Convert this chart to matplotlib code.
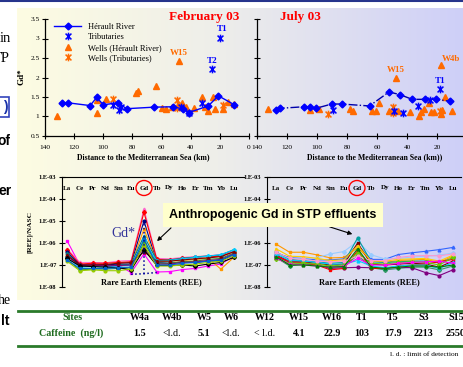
import numpy as np
import matplotlib
matplotlib.use("Agg")
import matplotlib.pyplot as plt
import matplotlib.transforms as mtransforms
from matplotlib.patches import Ellipse, Rectangle
from matplotlib.lines import Line2D
from matplotlib.path import Path
from matplotlib.ticker import NullLocator

plt.rcParams['font.family'] = ['Liberation Serif', 'DejaVu Serif']
SANS = ['Liberation Sans', 'DejaVu Sans']

# ---------- Gd* vs distance, February 03 ----------
feb_river_km = [128, 124, 109, 104.5, 100, 90, 84, 65, 52, 45, 41.5, 28, 21, 10]
feb_river_gd = [1.35, 1.35, 1.28, 1.49, 1.30, 1.35, 1.20, 1.24, 1.25, 1.19, 1.10, 1.27, 1.53, 1.30]
feb_trib_km = [93.5, 89, 88, 47, 41.5, 32.5, 25.5, 20]
feb_trib_gd = [1.30, 1.17, 1.25, 1.25, 1.08, 1.34, 2.21, 3.02]
feb_wells_km = [132, 104.5, 104.5, 98, 77.5, 76, 64, 48, 60, 57, 53, 49, 46, 43, 38,
                32.5, 30, 28, 25, 23, 18, 14.6, 10]
feb_wells_gd = [1.0, 1.42, 1.1, 1.45, 1.6, 1.66, 1.78, 2.42, 1.22, 1.2, 1.25, 1.3, 1.35, 1.25, 1.22,
                1.5, 1.25, 1.15, 1.5, 1.18, 1.2, 1.36, 1.32]
feb_welltrib_km = [93, 49.6, 49.6, 18]
feb_welltrib_gd = [1.45, 1.42, 1.22, 1.3]

# ---------- Gd* vs distance, July 03 ----------
jul_river_km = [127.3, 124.7, 108.7, 104.7, 100.7, 90.2, 83.5, 65, 52, 44.7, 36.5, 28, 20.7, 11.3]
jul_river_gd = [1.17, 1.21, 1.25, 1.24, 1.21, 1.32, 1.32, 1.27, 1.63, 1.56, 1.44, 1.44, 1.44, 1.39]
jul_trib_km = [89.5, 49, 42.4, 32.5, 24.7, 18]
jul_trib_gd = [1.17, 1.15, 1.10, 1.27, 1.42, 1.70]
jul_wells_km = [132.5, 104.7, 98.5, 78, 76, 63.5, 61, 58.7, 52, 47.5, 46, 38, 31.8, 31,
                28.4, 25.1, 24, 22, 17.5, 17, 14.7, 10.2, 17.5]
jul_wells_gd = [1.18, 1.17, 1.18, 1.18, 1.15, 1.14, 1.14, 1.34, 1.13, 1.98, 1.15, 1.11, 1.01, 1.12,
                1.19, 1.34, 1.12, 1.12, 1.07, 1.16, 1.5, 1.14, 2.32]
jul_welltrib_km = [93, 49.5, 49.5, 18]
jul_welltrib_gd = [1.06, 1.24, 1.1, 1.15]

gd_ticks = [0.5, 1, 1.5, 2, 2.5, 3, 3.5]
gd_ticklabels = ['0.5', '1', '1.5', '2', '2.5', '3', '3.5']
km_ticks = [140, 120, 100, 80, 60, 40, 20, 0]

# ---------- REE patterns (x 1e-7, NASC normalised) ----------
elements = ['La', 'Ce', 'Pr', 'Nd', 'Sm', 'Eu', 'Gd', 'Tb', 'Dy', 'Ho', 'Er', 'Tm', 'Yb', 'Lu']
feb_ree = [
    [12.8, 1.0, 1.0, 0.95, 1.0, 0.45, 3.2, 0.48, 0.5, 0.62, 0.7, 0.9, 1.1, 2.5],
    [5.5, 1.3, 1.3, 1.25, 1.5, 1.6, 350, 2.0, 1.9, 2.2, 2.4, 2.6, 3.0, 4.5],
    [5.0, 1.1, 1.2, 1.2, 1.3, 1.4, 250, 1.8, 1.7, 2.0, 2.2, 2.4, 2.5, 4.0],
    [4.0, 1.0, 1.0, 1.0, 1.1, 1.1, 100, 1.3, 1.2, 1.4, 1.3, 1.5, 1.6, 3.0],
    [3.0, 0.9, 0.9, 0.85, 0.9, 1.0, 43, 1.4, 1.5, 1.6, 1.8, 2.0, 0.65, 2.2],
    [3.5, 0.85, 0.9, 0.9, 1.0, 1.1, 21, 1.6, 1.7, 2.0, 2.3, 2.6, 2.8, 5.0],
    [2.2, 0.8, 0.85, 0.8, 0.9, 0.95, 13, 1.5, 1.6, 1.9, 2.2, 2.5, 3.0, 4.8],
    [1.8, 0.6, 0.65, 0.65, 0.7, 0.75, 10, 1.2, 1.2, 1.4, 1.5, 1.8, 2.0, 3.5],
    [2.5, 0.95, 1.0, 0.9, 0.95, 1.0, 6.3, 1.1, 1.1, 1.3, 1.4, 1.6, 1.8, 3.2],
    [2.8, 1.0, 1.0, 1.05, 1.2, 1.3, 4.0, 1.5, 1.5, 1.7, 1.9, 2.1, 2.4, 4.0],
    [2.0, 0.9, 0.85, 0.8, 0.75, 0.6, 5.0, 0.95, 0.95, 1.0, 0.9, 1.1, 1.3, 2.2],
    [1.5, 0.55, 0.6, 0.55, 0.55, 0.65, 8.0, 0.9, 0.9, 1.0, 1.1, 1.3, 1.5, 2.6],
    [1.7, 0.7, 0.7, 0.7, 0.75, 0.8, 15, 1.0, 1.0, 1.2, 1.3, 1.5, 1.7, 3.0],
]
feb_colors = ['#ff00ff', '#ff66cc', '#ff0000', '#000080', '#ff9900', '#008080', '#00ccff',
              '#339933', '#800080', '#800000', '#000000', '#99cc00', '#0066cc']
gd_base = [0.38, 0.40, 0.46]   # Eu, Gd, Tb baseline (x 1e-7)
gd_top = 80                    # top of the dotted Gd* bar (x 1e-7)

jul_ree = [
    [9.0, 3.8, 3.8, 2.9, 2.1, 2.2, 6.0, 1.6, 1.3, 1.6, 1.7, 1.8, 1.3, 2.5],
    [3.5, 2.2, 2.0, 1.7, 1.7, 1.9, 8.0, 1.8, 1.8, 3.0, 3.6, 4.2, 5.0, 6.3],
    [3.0, 2.0, 2.1, 2.1, 3.2, 4.1, 12, 2.9, 1.9, 2.0, 2.3, 2.5, 2.8, 3.5],
    [4.0, 1.8, 1.6, 1.4, 1.2, 1.3, 17, 1.4, 1.3, 1.4, 1.5, 1.5, 1.3, 2.0],
    [2.8, 1.5, 1.4, 1.2, 1.0, 1.1, 10, 1.1, 1.0, 1.1, 1.2, 1.1, 0.8, 1.5],
    [5.5, 2.5, 2.4, 2.0, 1.6, 1.7, 7.6, 1.5, 1.5, 1.8, 1.9, 2.0, 1.5, 2.8],
    [2.2, 0.9, 1.1, 1.0, 0.8, 0.85, 2.8, 0.75, 0.6, 0.7, 0.8, 0.8, 0.6, 0.9],
    [2.5, 1.3, 1.2, 1.0, 0.7, 0.75, 0.78, 0.75, 0.7, 0.8, 0.75, 0.45, 0.33, 0.6],
    [2.6, 1.4, 1.3, 1.0, 0.6, 0.7, 4.5, 0.7, 0.7, 0.9, 1.0, 1.1, 1.4, 1.8],
    [3.2, 1.6, 1.5, 1.3, 1.1, 1.1, 1.6, 0.9, 0.75, 0.9, 1.0, 1.0, 0.7, 1.3],
    [1.9, 1.2, 1.2, 1.1, 0.9, 1.0, 3.5, 1.2, 1.1, 1.3, 1.4, 1.3, 1.0, 2.2],
    [3.8, 2.0, 1.8, 1.5, 1.4, 1.5, 2.5, 1.6, 1.6, 2.2, 2.6, 2.7, 2.6, 3.2],
    [2.0, 1.1, 1.0, 0.9, 0.8, 0.9, 2.0, 1.0, 1.0, 1.2, 1.3, 1.4, 1.5, 1.2],
    [2.4, 1.0, 1.0, 0.9, 0.8, 0.85, 5.5, 0.8, 0.7, 0.8, 0.9, 0.9, 0.8, 1.0],
]
jul_colors = ['#ff9900', '#3366ff', '#99ccff', '#00a0a0', '#800000', '#ffcc00', '#339966',
              '#800080', '#ff0000', '#00ccff', '#66cc00', '#ff99cc', '#ff00ff', '#008000']
ree_ticks = [1e-8, 1e-7, 1e-6, 1e-5, 1e-4, 1e-3]
ree_ticklabels = ['1.E-08', '1.E-07', '1.E-06', '1.E-05', '1.E-04', '1.E-03']

# ---------- caffeine table ----------
sites = ['W4a', 'W4b', 'W5', 'W6', 'W12', 'W15', 'W16', 'T1', 'T5', 'S3', 'S15']
caffeine = ['1.5', '<l.d.', '5.1', '<l.d.', '< l.d.', '4.1', '22.9', '103', '17.9', '2213', '2550']

W, H = 464, 367
fig = plt.figure(figsize=(W / 100, H / 100), dpi=100)


def fx(x):
    return x / W


def fy(y):
    return 1 - y / H


def box(x0, y0, x1, y1):
    return [x0 / W, 1 - y1 / H, (x1 - x0) / W, (y1 - y0) / H]


# background gradient
bg = fig.add_axes(box(17, 8, 464, 300), zorder=-5)
stops = np.array([[253, 252, 226], [238, 238, 234], [206, 207, 248]]) / 255
t = np.linspace(0, 1, 300)
grad = np.stack([np.interp(t, [0, 0.45, 1], stops[:, k]) for k in range(3)], axis=-1)
bg.imshow(grad[None, :, :], aspect='auto', extent=(0, 1, 0, 1))
bg.axis('off')

fig.add_artist(Line2D([0, 1], [fy(1), fy(1)], transform=fig.transFigure, color='#26348c', lw=1.5))

# left slide text (cropped)
fig.text(fx(11), fy(39), 'in', ha='right', va='center', fontsize=10.5)
fig.text(fx(10), fy(58), 'TP', ha='right', va='center', fontsize=10.5)
fig.add_artist(Rectangle((fx(-6), fy(117)), 15 / W, 20 / H, transform=fig.transFigure,
                         fill=False, ec='#3344bb', lw=1.2))
fig.text(fx(8), fy(107), ')', ha='right', va='center', fontsize=10, color='#1a33aa',
         family=SANS, weight='bold')
fig.text(fx(10), fy(141), 'of', ha='right', va='center', fontsize=10, family=SANS, weight='bold')
fig.text(fx(12), fy(191), 'er', ha='right', va='center', fontsize=10, family=SANS, weight='bold')
fig.text(fx(11), fy(301), 'he', ha='right', va='center', fontsize=10)
fig.text(fx(9), fy(321), 'lt', ha='right', va='center', fontsize=10, family=SANS, weight='bold')

BLUE = '#0000ff'
ORANGE = '#ff6a00'
star = Path([(-1, -1), (1, 1), (-1, 1), (1, -1), (0, -1.3), (0, 1.3)],
            [Path.MOVETO, Path.LINETO] * 3)


def gd_panel(ax, rk, rg, rls, tk, tg, wk, wg, wtk, wtg, show_y):
    ax.set_facecolor('none')
    ax.plot(rk, rg, ls=rls, color=BLUE if rls == '-' else '#0000aa', lw=1, marker='D', ms=3.5,
            mfc=BLUE, mec=BLUE, label='Hérault River', zorder=3)
    ax.plot(tk, tg, ls='none', marker=star, ms=5.5, mew=1.1, color=BLUE, label='Tributaries', zorder=4)
    ax.plot(wk, wg, ls='none', marker='^', ms=5, color=ORANGE, label='Wells (Hérault River)', zorder=2)
    ax.plot(wtk, wtg, ls='none', marker=star, ms=5.5, mew=1.1, color=ORANGE,
            label='Wells (Tributaries)', zorder=2)
    ax.set_xlim(140, 0)
    ax.set_ylim(0.5, 3.5)
    ax.set_xticks(km_ticks if show_y else km_ticks[:-1])
    ax.set_yticks(gd_ticks)
    ax.set_yticklabels(gd_ticklabels if show_y else [])
    for s in ['top', 'right']:
        ax.spines[s].set_visible(False)
    for s in ['left', 'bottom']:
        ax.spines[s].set_linewidth(0.9)
    ax.tick_params(direction='inout', length=4, width=0.8, labelsize=5.3, pad=2)
    ax.tick_params(axis='x', pad=4.5)


def tag(ax, text, x, y, color, dx=0, dy=8):
    ax.annotate(text, (x, y), xytext=(dx, dy), textcoords='offset pixels', ha='center', va='center',
                color=color, fontsize=6.5, weight='bold')


ax1 = fig.add_axes(box(45, 19, 249, 136))
gd_panel(ax1, feb_river_km, feb_river_gd, '-', feb_trib_km, feb_trib_gd,
         feb_wells_km, feb_wells_gd, feb_welltrib_km, feb_welltrib_gd, True)
leg = ax1.legend(loc='upper left', bbox_to_anchor=(0.025, 1.0), borderaxespad=0, fontsize=6,
                 handlelength=3.3, borderpad=0.45, labelspacing=0.3, handletextpad=0.8,
                 fancybox=False, framealpha=0)
leg.get_frame().set_edgecolor('#222222')
leg.get_frame().set_linewidth(0.9)
tag(ax1, 'W15', feb_wells_km[7], feb_wells_gd[7], ORANGE)
tag(ax1, 'T2', feb_trib_km[6], feb_trib_gd[6], BLUE)
tag(ax1, 'T1', feb_trib_km[7], feb_trib_gd[7], BLUE, dx=2, dy=9)

ax2 = fig.add_axes(box(257, 19, 467, 136))
gd_panel(ax2, jul_river_km, jul_river_gd, '-.', jul_trib_km, jul_trib_gd,
         jul_wells_km, jul_wells_gd, jul_welltrib_km, jul_welltrib_gd, False)
tag(ax2, 'W15', jul_wells_km[9], jul_wells_gd[9], ORANGE)
tag(ax2, 'W4b', jul_wells_km[22], jul_wells_gd[22], ORANGE, dx=10, dy=6)
tag(ax2, 'T1', jul_trib_km[5], jul_trib_gd[5], BLUE)

fig.text(fx(204), fy(17), 'February 03', ha='center', va='center', color='#ff0000',
         fontsize=9.5, weight='bold')
fig.text(fx(300), fy(17), 'July 03', ha='center', va='center', color='#ff0000',
         fontsize=9.5, weight='bold')
fig.text(fx(22), fy(77), 'Gd*', rotation=90, ha='center', va='center', fontsize=6.5, weight='bold')
fig.text(fx(143), fy(157), 'Distance to the Mediterranean Sea (km)', ha='center', va='center',
         fontsize=5.6, weight='bold')
fig.text(fx(375), fy(157), 'Distance to the Mediterranean Sea (km))', ha='center', va='center',
         fontsize=5.6, weight='bold')


def ree_panel(ax, series, colors, x0, x1):
    ax.set_facecolor('none')
    xs = np.arange(len(elements))
    marks = ['s', '^', 'D', 'o', 's', '^', 'D', 'o', 's', '^', 'D', 'o', 's', '^']
    for vals, c, m in zip(series, colors, marks):
        ax.plot(xs, np.array(vals) * 1e-7, color=c, lw=0.8, marker=m, ms=2, mec=c)
    ax.set_yscale('log')
    ax.set_ylim(1e-8, 1e-3)
    ax.set_xlim(x0, x1)
    ax.set_xticks([])
    ax.set_yticks(ree_ticks)
    ax.set_yticklabels(ree_ticklabels)
    ax.yaxis.set_minor_locator(NullLocator())
    for s in ['right', 'bottom']:
        ax.spines[s].set_visible(False)
    ax.tick_params(direction='inout', length=4, width=0.8, labelsize=4.6, pad=2)
    for lab in ax.get_yticklabels():
        lab.set_fontweight('bold')
    trans = mtransforms.blended_transform_factory(ax.transData, ax.transAxes)
    for i, el in enumerate(elements):
        ax.text(i, 0.9, el, transform=trans, ha='center', va='center', fontsize=5, weight='bold')


ax3 = fig.add_axes(box(62, 177, 244, 287))
ree_panel(ax3, feb_ree, feb_colors, -0.39, 13.8)
ax3.plot([5, 6, 7], np.array(gd_base) * 1e-7, ls=':', color='#000099', lw=1.1)
ax3.plot([6, 6], [gd_base[1] * 1e-7, gd_top * 1e-7], ls=':', color='#000099', lw=1.1)
ax3.text(0.49, 0.045, 'Rare Earth Elements (REE)', transform=ax3.transAxes, ha='center',
         va='center', fontsize=6, weight='bold')

ax4 = fig.add_axes(box(267, 177, 461, 287))
ree_panel(ax4, jul_ree, jul_colors, -0.66, 13.6)
ax4.text(0.53, 0.045, 'Rare Earth Elements (REE)', transform=ax4.transAxes, ha='center',
         va='center', fontsize=6, weight='bold')

fig.text(fx(30), fy(232), '[REE]/NASC', rotation=90, ha='center', va='center', fontsize=5.3,
         weight='bold')

for cx in (144, 357):
    fig.add_artist(Ellipse((fx(cx), fy(188)), 16 / W, 15 / H, transform=fig.transFigure,
                           fill=False, ec='#ff0000', lw=1))

ax3.annotate('', xy=(fx(155), fy(243)), xycoords='figure fraction', xytext=(fx(173), fy(226)),
             textcoords='figure fraction', annotation_clip=False,
             arrowprops=dict(arrowstyle='-|>', color='k', lw=0.8, mutation_scale=6))
ax4.annotate('', xy=(fx(355), fy(235)), xycoords='figure fraction', xytext=(fx(327), fy(226)),
             textcoords='figure fraction', annotation_clip=False,
             arrowprops=dict(arrowstyle='-|>', color='k', lw=0.8, mutation_scale=6))
fig.text(fx(273), fy(215), 'Anthropogenic Gd in STP effluents', ha='center', va='center',
         family=SANS, weight='bold', fontsize=9, zorder=10,
         bbox=dict(boxstyle='square,pad=0.5', fc='#ffffcc', ec='none'))
fig.text(fx(123), fy(233), 'Gd*', ha='center', va='center', fontsize=10, color='#333399')

# table
GREEN = '#2a7a2a'
for yy, lw in ((311, 2), (346, 2)):
    fig.add_artist(Line2D([fx(18), 1], [fy(yy), fy(yy)], transform=fig.transFigure,
                          color=GREEN, lw=lw))
col_x = [140, 172, 204, 231, 265, 299, 332, 362, 393, 424, 456]
fig.text(fx(73), fy(318), 'Sites', ha='center', va='center', fontsize=7.2, weight='bold', color='#1e6b1e')
fig.text(fx(71), fy(333), 'Caffeine  (ng/l)', ha='center', va='center', fontsize=7.2, weight='bold',
         color='#1e6b1e')
for x, s, c in zip(col_x, sites, caffeine):
    fig.text(fx(x), fy(318), s, ha='center', va='center', fontsize=7.2, weight='bold')
    fig.text(fx(x), fy(333), c, ha='center', va='center', fontsize=7.2,
             weight='normal' if 'l.d.' in c else 'bold')
fig.text(fx(458), fy(354), 'l. d. : limit of detection', ha='right', va='center', fontsize=5.3)

fig.savefig('out.png', dpi=100)
